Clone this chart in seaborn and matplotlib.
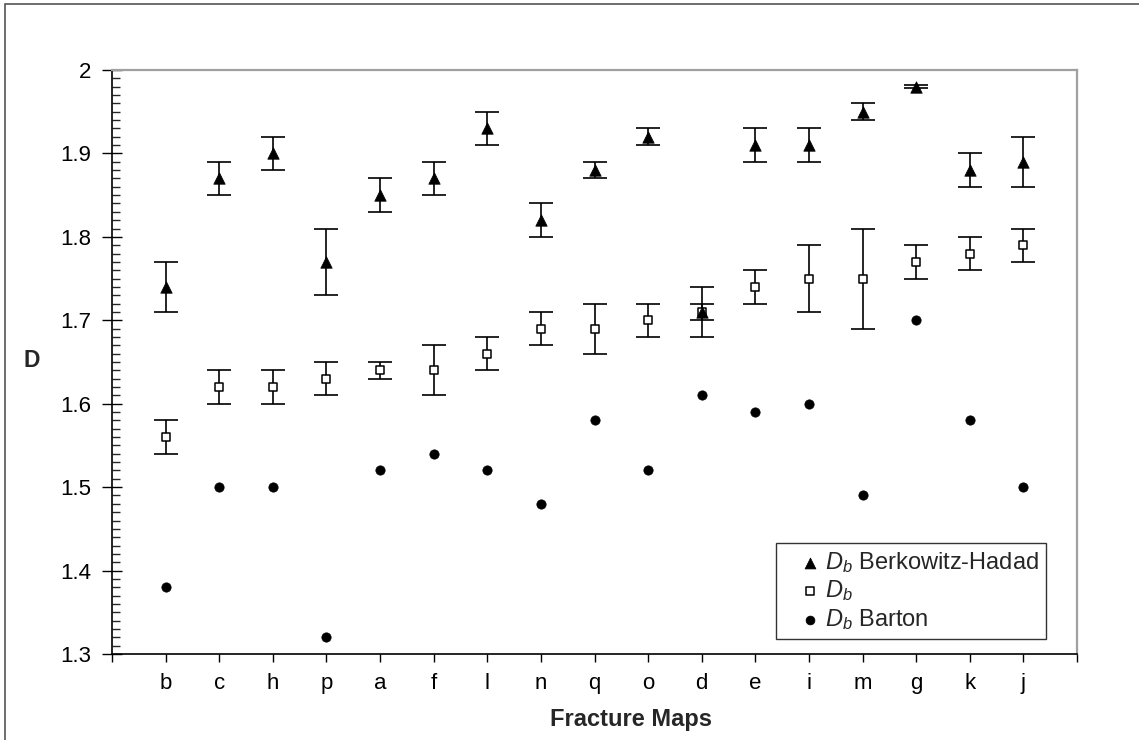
import numpy as np
import pandas as pd
import matplotlib
matplotlib.use("Agg")
import matplotlib.pyplot as plt
from matplotlib.patches import Rectangle
from matplotlib.ticker import MultipleLocator, FixedLocator, FuncFormatter
import seaborn as sns

# Fracture maps, in plotting order
maps = ["b", "c", "h", "p", "a", "f", "l", "n", "q", "o", "d", "e", "i", "m", "g", "k", "j"]

# Box-counting dimension, Berkowitz-Hadad method (mean and error)
db_bh = [1.74, 1.87, 1.90, 1.77, 1.85, 1.87, 1.93, 1.82, 1.88, 1.92, 1.71, 1.91, 1.91, 1.95, 1.98, 1.88, 1.89]
db_bh_err = [0.03, 0.02, 0.02, 0.04, 0.02, 0.02, 0.02, 0.02, 0.01, 0.01, 0.03, 0.02, 0.02, 0.01, 0.002, 0.02, 0.03]

# Box-counting dimension (mean and error)
db = [1.56, 1.62, 1.62, 1.63, 1.64, 1.64, 1.66, 1.69, 1.69, 1.70, 1.71, 1.74, 1.75, 1.75, 1.77, 1.78, 1.79]
db_err = [0.02, 0.02, 0.02, 0.02, 0.01, 0.03, 0.02, 0.02, 0.03, 0.02, 0.01, 0.02, 0.04, 0.06, 0.02, 0.02, 0.02]

# Box-counting dimension, Barton method
db_barton = [1.38, 1.50, 1.50, 1.32, 1.52, 1.54, 1.52, 1.48, 1.58, 1.52, 1.61, 1.59, 1.60, 1.49, 1.70, 1.58, 1.50]

y_ticks = [1.3, 1.4, 1.5, 1.6, 1.7, 1.8, 1.9, 2.0]

sns.set_style("white")
plt.rcParams["font.family"] = ["Liberation Sans", "DejaVu Sans"]
plt.rcParams["mathtext.fontset"] = "custom"
plt.rcParams["mathtext.rm"] = "Liberation Sans"
plt.rcParams["mathtext.it"] = "Liberation Sans:italic"
plt.rcParams["mathtext.bf"] = "Liberation Sans:bold"

df = pd.DataFrame({"map": maps, "bh": db_bh, "bh_err": db_bh_err,
                   "db": db, "db_err": db_err, "barton": db_barton})

fig = plt.figure(figsize=(11.39, 7.40), dpi=100)
ax = fig.add_axes([112 / 1139, 1 - 654 / 740, (1077 - 112) / 1139, (654 - 70) / 740])

# markers
sns.scatterplot(data=df, x="map", y="db", ax=ax, marker="s", s=40,
                facecolor="white", edgecolor="black", linewidth=1.1,
                label=r"$D_b$", zorder=4)
sns.scatterplot(data=df, x="map", y="bh", ax=ax, marker="^", s=68,
                color="black", edgecolor="black", linewidth=0.5,
                label=r"$D_b$ Berkowitz-Hadad", zorder=5)
sns.scatterplot(data=df, x="map", y="barton", ax=ax, marker="o", s=45,
                color="black", edgecolor="black", linewidth=0.5,
                label=r"$D_b$ Barton", zorder=5)

# error bars
ax.errorbar(df["map"], df["bh"], yerr=df["bh_err"], fmt="none", ecolor="black",
            elinewidth=1.2, capsize=8.4, capthick=1.2, zorder=3)
ax.errorbar(df["map"], df["db"], yerr=df["db_err"], fmt="none", ecolor="black",
            elinewidth=1.2, capsize=8.4, capthick=1.2, zorder=3)

# axes limits and ticks
ax.set_xlim(-1, len(maps))
ax.set_xticks(range(-1, len(maps) + 1))
ax.set_xticklabels([""] + maps + [""])
ax.set_ylim(y_ticks[0], y_ticks[-1])
ax.yaxis.set_major_locator(FixedLocator(y_ticks))
ax.yaxis.set_minor_locator(MultipleLocator(0.01))
ax.yaxis.set_major_formatter(FuncFormatter(lambda v, _: f"{v:g}"))

ax.tick_params(axis="x", which="major", direction="out", length=6, width=1,
               bottom=True, pad=8, labelsize=16, colors="black")
ax.tick_params(axis="y", which="major", direction="inout", length=14, width=1,
               left=True, pad=8, labelsize=16, colors="black")
ax.tick_params(axis="y", which="minor", direction="in", length=6, width=1, left=True)

for side in ("left", "bottom"):
    ax.spines[side].set_color("black")
    ax.spines[side].set_linewidth(1.2)
for side in ("top", "right"):
    ax.spines[side].set_color("#a0a0a0")
    ax.spines[side].set_linewidth(1.6)

ax.set_xlabel("Fracture Maps", fontsize=17, fontweight="bold")
ax.xaxis.set_label_coords(0.538, -0.113)
ax.xaxis.label.set_va("center")
ax.set_ylabel("D", fontsize=16.5, fontweight="bold", rotation=0)
ax.yaxis.set_label_coords(-0.083, 0.503)
ax.yaxis.label.set_va("center")
ax.yaxis.label.set_ha("center")

# legend in series order
handles, labels = ax.get_legend_handles_labels()
order = [labels.index(l) for l in [r"$D_b$ Berkowitz-Hadad", r"$D_b$", r"$D_b$ Barton"]]
leg = ax.legend([handles[i] for i in order], [labels[i] for i in order],
                loc="lower right", bbox_to_anchor=(0.968, 0.026), borderaxespad=0,
                fontsize=17, frameon=True, fancybox=False, handlelength=2.3,
                handletextpad=-0.5, borderpad=0.3, labelspacing=0.15,
                markerscale=0.95)
leg.get_frame().set_edgecolor("black")
leg.get_frame().set_linewidth(1.0)

# chart area border
fig.patches.append(Rectangle((5 / 1139, -0.5), 2.0, 0.5 + (1 - 3.5 / 740),
                             transform=fig.transFigure, fill=False,
                             edgecolor="#555555", linewidth=1.2))

fig.savefig("out.png", dpi=100)
